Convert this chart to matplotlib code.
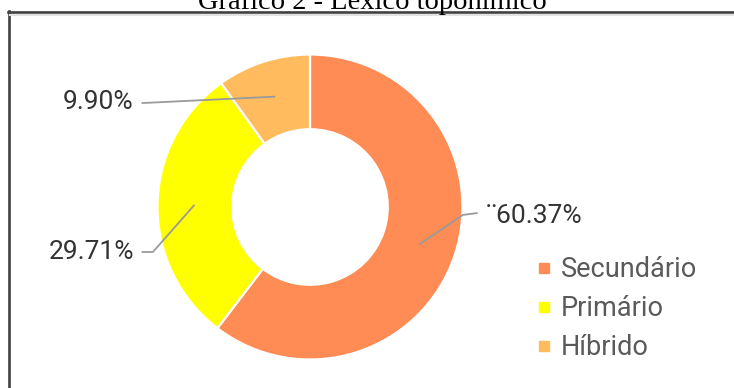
import numpy as np
import matplotlib
matplotlib.use("Agg")
import matplotlib.pyplot as plt
from matplotlib.lines import Line2D

# Data
categories = ["Secundário", "Primário", "Híbrido"]
shares = [60.37, 29.71, 9.90]
value_labels = ["¨60.37%", "29.71%", "9.90%"]
colors = ["#FF8B55", "#FFFF00", "#FFBB5E"]
title = "Gráfico 2 - Léxico toponímico"

W, H = 734, 388
fig = plt.figure(figsize=(W / 100, H / 100), dpi=100)
fig.patch.set_facecolor("white")

# Donut axes (center and radius in pixels)
cx, cy, R = 310, 207, 152.5
ax = fig.add_axes([(cx - R) / W, (H - cy - R) / H, 2 * R / W, 2 * R / H])
wedges, _ = ax.pie(shares, colors=colors, startangle=90, counterclock=False,
                   radius=1.0,
                   wedgeprops=dict(width=0.49, edgecolor="white", linewidth=1.6))
ax.set_xlim(-1, 1)
ax.set_ylim(-1, 1)
ax.set_aspect("equal")
ax.axis("off")

# Leader lines: start in the middle of each ring segment, end at label
# (elbow point, end point, text anchor, horizontal alignment) in axes units
label_layout = [
    ((1.003, -0.052), (1.095, -0.040), (1.155, -0.058), "left"),
    ((-1.030, -0.295), (-1.100, -0.295), (-1.155, -0.295), "right"),
    ((-1.050, 0.684), (-1.100, 0.682), (-1.155, 0.688), "right"),
]
r_mid = 0.76
for w, lab, (elbow, end, txt, ha) in zip(wedges, value_labels, label_layout):
    ang = np.deg2rad((w.theta1 + w.theta2) / 2)
    sx, sy = r_mid * np.cos(ang), r_mid * np.sin(ang)
    ax.plot([sx, elbow[0], end[0]], [sy, elbow[1], end[1]],
            color="#9a9a9a", lw=1.3, solid_capstyle="round", clip_on=False)
    ax.text(txt[0], txt[1], lab, ha=ha, va="center", fontsize=19,
            family="Roboto", color="#333333", clip_on=False)

# Legend
handles = [Line2D([], [], marker="s", linestyle="none", markersize=7.8,
                  markerfacecolor=c, markeredgecolor=c) for c in colors]
leg = fig.legend(handles, categories, loc="upper left",
                 bbox_to_anchor=(536 / W, 1 - 256 / H), frameon=False,
                 borderpad=0, borderaxespad=0, handlelength=0.6,
                 handletextpad=0.3, labelspacing=0.45,
                 prop=dict(family="Roboto", size=19.5))
for t in leg.get_texts():
    t.set_color("#5a5a5a")

# Frame lines around the chart area
fig.add_artist(Line2D([9.3 / W, 9.3 / W], [0, 1 - 11 / H],
                      transform=fig.transFigure, color="#404040", lw=1.9))
fig.add_artist(Line2D([8 / W, 1], [1 - 12 / H, 1 - 12 / H],
                      transform=fig.transFigure, color="#404040", lw=1.9))
fig.add_artist(Line2D([10 / W, 1], [1 - 14.5 / H, 1 - 14.5 / H],
                      transform=fig.transFigure, color="#e2e2e2", lw=1.5))

# Title (its top sits above the canvas edge)
fig.text(372 / W, 1 - 9 / H, title, ha="center", va="baseline",
         fontsize=20.5, family="Liberation Serif", color="black")

fig.savefig("out.png", dpi=100)
